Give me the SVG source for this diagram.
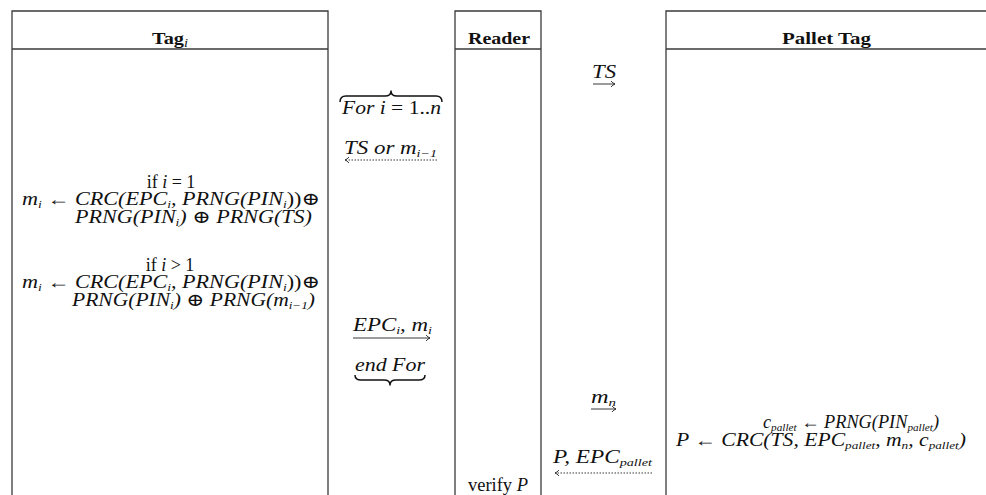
<svg xmlns="http://www.w3.org/2000/svg" width="986" height="495" viewBox="0 0 986 495">
  <defs>
    <marker id="head" markerUnits="userSpaceOnUse" markerWidth="8" markerHeight="8" refX="5" refY="4" orient="auto">
      <path d="M1,1 Q3,3.4 5,4 Q3,4.6 1,7" fill="none" stroke="#222" stroke-width="0.9"/>
    </marker>
    <style>
      .box { fill: none; stroke: #3a3a3a; stroke-width: 1.3; }
      .hd { font-family: "Liberation Serif", "DejaVu Serif", serif; font-weight: bold; font-size: 17px; fill: #111; }
      .tx { font-family: "Liberation Serif", "DejaVu Serif", serif; font-size: 18px; fill: #111; }
      .mi { font-style: italic; }
      .sb { font-size: 11px; font-style: italic; }
      .arr { stroke: #222; stroke-width: 0.9; fill: none; marker-end: url(#head); }
      .dot { stroke-dasharray: 1.5 1.5; }
      .brace { fill: none; stroke: #111; stroke-width: 1.5; stroke-linejoin: round; }
    </style>
  </defs>

  <!-- Tag_i lifeline -->
  <g id="tag">
    <path class="box" d="M12,495 V11 H328 V495 M12,49 H328"/>
    <text class="hd" x="152" y="44" textLength="36" lengthAdjust="spacingAndGlyphs">Tag<tspan font-weight="normal" font-style="italic" font-size="12" dy="3">i</tspan></text>
    <text class="tx" x="171" y="188" text-anchor="middle">if <tspan class="mi">i</tspan> = 1</text>
    <text class="tx mi" x="22" y="205" textLength="298" lengthAdjust="spacingAndGlyphs">m<tspan class="sb" dy="3">i</tspan><tspan dy="-3"> ← CRC(EPC</tspan><tspan class="sb" dy="3">i</tspan><tspan dy="-3">, PRNG(PIN</tspan><tspan class="sb" dy="3">i</tspan><tspan dy="-3" font-style="normal">))⊕</tspan></text>
    <text class="tx mi" x="75" y="223" textLength="237" lengthAdjust="spacingAndGlyphs">PRNG(PIN<tspan class="sb" dy="3">i</tspan><tspan dy="-3">) ⊕ PRNG(TS)</tspan></text>
    <text class="tx" x="170" y="271" text-anchor="middle">if <tspan class="mi">i</tspan> &gt; 1</text>
    <text class="tx mi" x="22" y="288" textLength="298" lengthAdjust="spacingAndGlyphs">m<tspan class="sb" dy="3">i</tspan><tspan dy="-3"> ← CRC(EPC</tspan><tspan class="sb" dy="3">i</tspan><tspan dy="-3">, PRNG(PIN</tspan><tspan class="sb" dy="3">i</tspan><tspan dy="-3" font-style="normal">))⊕</tspan></text>
    <text class="tx mi" x="72" y="306" textLength="243" lengthAdjust="spacingAndGlyphs">PRNG(PIN<tspan class="sb" dy="3">i</tspan><tspan dy="-3">) ⊕ PRNG(m</tspan><tspan class="sb" dy="3">i−1</tspan><tspan dy="-3">)</tspan></text>
  </g>

  <!-- Reader lifeline -->
  <g id="reader">
    <path class="box" d="M455,495 V11 H541 V495 M455,49 H541"/>
    <text class="hd" x="468" y="44" textLength="62" lengthAdjust="spacingAndGlyphs">Reader</text>
    <text class="tx" x="468" y="491" textLength="60" lengthAdjust="spacingAndGlyphs">verify <tspan class="mi">P</tspan></text>
  </g>

  <!-- Pallet Tag lifeline -->
  <g id="pallet">
    <path class="box" d="M666,495 V11 H986 M666,49 H986"/>
    <text class="hd" x="782" y="44" textLength="89" lengthAdjust="spacingAndGlyphs">Pallet Tag</text>
    <text class="tx mi" x="763" y="428" textLength="176" lengthAdjust="spacingAndGlyphs">c<tspan class="sb" dy="3" font-size="10">pallet</tspan><tspan dy="-3"> ← PRNG(PIN</tspan><tspan class="sb" dy="3" font-size="10">pallet</tspan><tspan dy="-3">)</tspan></text>
    <text class="tx mi" x="676" y="446" textLength="290" lengthAdjust="spacingAndGlyphs">P ← CRC(TS, EPC<tspan class="sb" dy="3" font-size="10">pallet</tspan><tspan dy="-3">, m</tspan><tspan class="sb" dy="3" font-size="10">n</tspan><tspan dy="-3">, c</tspan><tspan class="sb" dy="3" font-size="10">pallet</tspan><tspan dy="-3">)</tspan></text>
  </g>

  <!-- loop over the item tags -->
  <g id="loop">
    <path class="brace" d="M340,102 Q340,96 346,96 L385,96 Q391,96 391,91 Q391,96 397,96 L436,96 Q442,96 442,102"/>
    <text class="tx mi" x="342" y="114" textLength="99" lengthAdjust="spacingAndGlyphs">For  i <tspan font-style="normal">= 1..</tspan>n</text>
    <text class="tx mi" x="355" y="371" textLength="70" lengthAdjust="spacingAndGlyphs">end  For</text>
    <path class="brace" d="M355,375 Q355,380 361,380 L384,380 Q390,380 390,385 Q390,380 396,380 L419,380 Q425,380 425,375"/>
  </g>

  <!-- messages -->
  <g id="connectors">
    <text class="tx mi" x="592" y="78" textLength="24" lengthAdjust="spacingAndGlyphs">TS</text>
    <line class="arr" x1="593" y1="84" x2="615" y2="84"/>

    <text class="tx mi" x="344" y="154" textLength="93" lengthAdjust="spacingAndGlyphs">TS or m<tspan class="sb" dy="3">i−1</tspan></text>
    <line class="arr dot" x1="437" y1="160" x2="345" y2="160"/>

    <text class="tx mi" x="353" y="331" textLength="79" lengthAdjust="spacingAndGlyphs">EPC<tspan class="sb" dy="3">i</tspan><tspan dy="-3">, m</tspan><tspan class="sb" dy="3">i</tspan></text>
    <line class="arr" x1="353" y1="338" x2="430" y2="338"/>

    <text class="tx mi" x="591" y="403" textLength="25" lengthAdjust="spacingAndGlyphs">m<tspan class="sb" dy="3">n</tspan></text>
    <line class="arr" x1="591" y1="409" x2="616" y2="409"/>

    <text class="tx mi" x="553" y="463" textLength="99" lengthAdjust="spacingAndGlyphs">P, EPC<tspan class="sb" dy="3">pallet</tspan></text>
    <line class="arr dot" x1="652" y1="473" x2="555" y2="473"/>
  </g>
</svg>
